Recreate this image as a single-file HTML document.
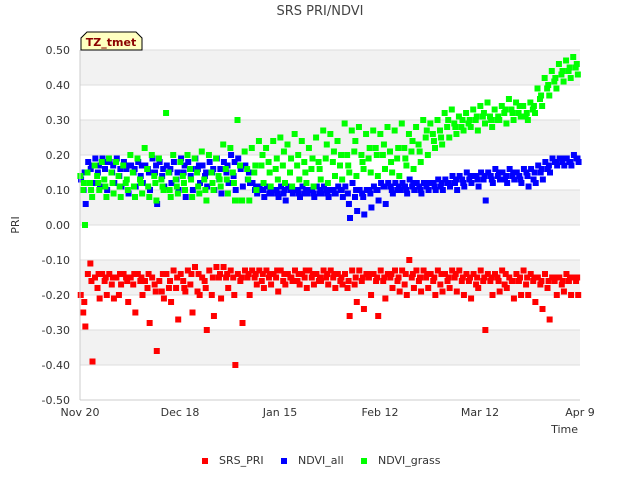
<!DOCTYPE html>
<html><head><meta charset="utf-8"><style>
body{margin:0;background:#fff;font-family:"Liberation Sans","DejaVu Sans",sans-serif}
text{font-family:"DejaVu Sans","Liberation Sans",sans-serif}
</style></head><body>
<svg id="chart" width="640" height="480" xmlns="http://www.w3.org/2000/svg">
<rect width="640" height="480" fill="#fff"/>
<text x="320" y="15" text-anchor="middle" font-size="13" fill="#444">SRS PRI/NDVI</text>
<g id="bands"></g>
<g id="grid"></g>
<g id="marks"></g>
<line x1="80" y1="400" x2="580" y2="400" stroke="#ccc"/>
<line x1="80" y1="50" x2="80" y2="400" stroke="#ccc"/>
<g id="ticks"></g>
<text transform="translate(19,225) rotate(-90)" text-anchor="middle" font-size="11" fill="#333">PRI</text>
<text x="578" y="433" text-anchor="end" font-size="11" fill="#333">Time</text>
<g>
<path d="M81,50 L81,38 L87,32 L136,32 L142,38 L142,50 Z" fill="#ffffc0" stroke="#000"/>
<text x="111" y="46" text-anchor="middle" font-size="11" font-weight="bold" fill="#8b0000">TZ_tmet</text>
</g>
<g>
<rect x="202" y="458" width="6" height="6" fill="#f00"/>
<text x="219" y="464" font-size="11" fill="#333">SRS_PRI</text>
<rect x="281" y="458" width="6" height="6" fill="#00f"/>
<text x="298" y="464" font-size="11" fill="#333">NDVI_all</text>
<rect x="361" y="458" width="6" height="6" fill="#0f0"/>
<text x="378" y="464" font-size="11" fill="#333">NDVI_grass</text>
</g>
</svg>
<script>
const yTicks=[0.5,0.4,0.3,0.2,0.1,0,-0.1,-0.2,-0.3,-0.4,-0.5];
const yTickLabels=["0.50","0.40","0.30","0.20","0.10","0.00","-0.10","-0.20","-0.30","-0.40","-0.50"];
const xTickDays=[0,28,56,84,112,140];
const xTickLabels=["Nov 20","Dec 18","Jan 15","Feb 12","Mar 12","Apr 9"];
const grayBands=[[0.4,0.5],[0.2,0.3],[0,0.1],[-0.2,-0.1],[-0.4,-0.3]];
// values every 2 days starting Nov 20
const allA=[0.13,0.18,0.19,0.19,0.18,0.19,0.18,0.17,0.18,0.17,0.19,0.18,0.17,0.18,0.19,0.18,0.19,0.17,0.18,0.19,0.18,0.2,0.19,0.17,0.12,0.11,0.11,0.1,0.11,0.11,0.1,0.11,0.1,0.11,0.11,0.1,0.11,0.11,0.12,0.1,0.1,0.11,0.12,0.12,0.12,0.12,0.13,0.12,0.12,0.12,0.13,0.13,0.14,0.14,0.15,0.14,0.15,0.15,0.16,0.15,0.16,0.15,0.16,0.16,0.17,0.18,0.19,0.19,0.19,0.2];
const allB=[0.1,0.16,0.15,0.16,0.15,0.14,0.16,0.15,0.14,0.16,0.15,0.14,0.15,0.13,0.15,0.14,0.16,0.14,0.15,0.13,0.15,0.14,0.16,0.13,0.1,0.1,0.09,0.1,0.09,0.1,0.1,0.09,0.1,0.09,0.1,0.1,0.1,0.09,0.08,0.09,0.1,0.1,0.11,0.11,0.1,0.11,0.11,0.11,0.11,0.12,0.11,0.12,0.12,0.13,0.13,0.14,0.13,0.14,0.14,0.13,0.14,0.14,0.15,0.13,0.15,0.16,0.18,0.18,0.18,0.19];
const allC=[0.06,0.12,0.11,0.1,0.12,0.11,0.09,0.11,0.12,0.1,0.06,0.11,0.12,0.1,0.08,0.1,0.12,0.11,0.1,0.09,0.12,0.1,0.11,0.12,0.09,0.08,0.09,0.08,0.07,0.09,0.08,0.09,0.08,0.09,0.08,0.09,0.08,0.02,0.04,0.03,0.05,0.07,0.06,0.09,0.1,0.09,0.1,0.09,0.1,0.1,0.1,0.11,0.1,0.11,0.12,0.11,0.07,0.12,0.13,0.12,0.13,0.12,0.11,0.12,0.13,0.15,0.17,0.17,0.17,0.18];
const allD=[0.15,0.17,0.17,0.18,0.17,0.16,0.17,0.16,0.17,0.15,0.17,0.16,0.16,0.15,0.17,0.16,0.17,0.15,0.16,0.16,0.17,0.18,0.17,0.15,0.11,0.1,0.1,0.09,0.1,0.1,0.09,0.1,0.09,0.1,0.09,0.09,0.1,0.06,0.1,0.08,0.09,0.1,0.11,0.1,0.11,0.1,0.12,0.1,0.12,0.11,0.12,0.12,0.13,0.12,0.14,0.13,0.14,0.13,0.15,0.14,0.15,0.13,0.14,0.15,0.16,0.17,0.18,0.19,0.18,0.19];
const grassA=[0.14,0.15,0.17,0.18,0.19,0.18,0.17,0.2,0.19,0.22,0.2,0.19,0.32,0.2,0.18,0.2,0.19,0.21,0.2,0.19,0.23,0.22,0.3,0.21,0.22,0.24,0.22,0.24,0.25,0.23,0.26,0.24,0.22,0.25,0.27,0.26,0.24,0.29,0.27,0.28,0.26,0.27,0.26,0.28,0.27,0.29,0.26,0.28,0.3,0.29,0.3,0.32,0.33,0.31,0.32,0.33,0.34,0.35,0.33,0.34,0.36,0.35,0.34,0.35,0.39,0.42,0.44,0.46,0.47,0.48];
const grassB=[0.1,0.12,0.14,0.13,0.15,0.14,0.12,0.15,0.13,0.16,0.14,0.13,0.15,0.13,0.14,0.16,0.15,0.13,0.15,0.14,0.16,0.15,0.17,0.16,0.15,0.17,0.18,0.16,0.17,0.15,0.17,0.18,0.16,0.18,0.19,0.18,0.17,0.2,0.21,0.2,0.19,0.22,0.2,0.21,0.19,0.22,0.21,0.23,0.25,0.26,0.27,0.28,0.29,0.28,0.29,0.3,0.31,0.31,0.3,0.32,0.33,0.32,0.31,0.33,0.36,0.39,0.41,0.43,0.44,0.45];
const grassC=[0.0,0.08,0.1,0.08,0.09,0.08,0.1,0.08,0.09,0.08,0.07,0.1,0.08,0.09,0.1,0.08,0.09,0.07,0.1,0.11,0.09,0.07,0.07,0.07,0.1,0.12,0.11,0.13,0.12,0.11,0.13,0.12,0.11,0.13,0.12,0.14,0.13,0.15,0.14,0.16,0.15,0.14,0.16,0.15,0.14,0.17,0.16,0.18,0.2,0.22,0.23,0.25,0.26,0.27,0.28,0.27,0.29,0.28,0.3,0.29,0.3,0.31,0.3,0.32,0.34,0.37,0.39,0.41,0.42,0.43];
const grassD=[0.12,0.1,0.12,0.11,0.12,0.11,0.13,0.11,0.12,0.11,0.12,0.11,0.1,0.11,0.12,0.13,0.11,0.1,0.12,0.13,0.13,0.12,0.07,0.13,0.17,0.2,0.15,0.19,0.21,0.19,0.2,0.15,0.19,0.16,0.23,0.21,0.2,0.17,0.24,0.18,0.22,0.2,0.23,0.18,0.22,0.19,0.24,0.21,0.27,0.24,0.25,0.3,0.28,0.3,0.3,0.31,0.32,0.3,0.31,0.33,0.32,0.34,0.32,0.34,0.37,0.4,0.42,0.44,0.45,0.46];
const priA=[-0.2,-0.14,-0.15,-0.14,-0.14,-0.15,-0.14,-0.15,-0.14,-0.16,-0.15,-0.16,-0.14,-0.13,-0.14,-0.13,-0.12,-0.15,-0.13,-0.12,-0.12,-0.13,-0.14,-0.13,-0.13,-0.13,-0.13,-0.14,-0.13,-0.14,-0.13,-0.14,-0.13,-0.14,-0.13,-0.13,-0.14,-0.14,-0.13,-0.13,-0.14,-0.14,-0.13,-0.14,-0.13,-0.13,-0.1,-0.13,-0.13,-0.14,-0.13,-0.14,-0.13,-0.13,-0.14,-0.14,-0.13,-0.14,-0.14,-0.13,-0.15,-0.14,-0.13,-0.14,-0.15,-0.14,-0.15,-0.15,-0.14,-0.15];
const priB=[-0.25,-0.11,-0.18,-0.16,-0.17,-0.2,-0.15,-0.17,-0.16,-0.18,-0.17,-0.19,-0.18,-0.18,-0.16,-0.17,-0.19,-0.16,-0.2,-0.15,-0.15,-0.15,-0.16,-0.15,-0.15,-0.16,-0.15,-0.15,-0.16,-0.15,-0.16,-0.15,-0.15,-0.16,-0.15,-0.15,-0.16,-0.18,-0.17,-0.16,-0.15,-0.16,-0.16,-0.15,-0.16,-0.17,-0.15,-0.16,-0.15,-0.16,-0.17,-0.16,-0.15,-0.16,-0.16,-0.17,-0.16,-0.16,-0.15,-0.17,-0.16,-0.16,-0.17,-0.16,-0.17,-0.18,-0.16,-0.17,-0.16,-0.16];
const priC=[-0.29,-0.39,-0.21,-0.2,-0.21,-0.17,-0.22,-0.25,-0.2,-0.28,-0.36,-0.21,-0.22,-0.27,-0.19,-0.25,-0.2,-0.3,-0.26,-0.21,-0.18,-0.4,-0.28,-0.2,-0.17,-0.18,-0.17,-0.19,-0.17,-0.16,-0.17,-0.18,-0.17,-0.16,-0.17,-0.18,-0.17,-0.26,-0.22,-0.24,-0.2,-0.26,-0.21,-0.18,-0.19,-0.2,-0.18,-0.19,-0.18,-0.2,-0.19,-0.18,-0.19,-0.2,-0.21,-0.18,-0.3,-0.2,-0.19,-0.18,-0.21,-0.2,-0.2,-0.22,-0.24,-0.27,-0.2,-0.19,-0.2,-0.2];
const priD=[-0.22,-0.16,-0.14,-0.15,-0.15,-0.14,-0.16,-0.14,-0.15,-0.14,-0.19,-0.14,-0.16,-0.15,-0.18,-0.14,-0.14,-0.18,-0.15,-0.14,-0.14,-0.2,-0.15,-0.14,-0.14,-0.14,-0.14,-0.13,-0.14,-0.15,-0.14,-0.13,-0.14,-0.15,-0.14,-0.14,-0.15,-0.16,-0.15,-0.15,-0.14,-0.15,-0.15,-0.14,-0.15,-0.14,-0.14,-0.15,-0.14,-0.15,-0.14,-0.15,-0.14,-0.15,-0.15,-0.15,-0.15,-0.15,-0.16,-0.14,-0.16,-0.15,-0.15,-0.15,-0.16,-0.16,-0.15,-0.16,-0.15,-0.15];
const NS="http://www.w3.org/2000/svg";
const X0=80,X1=580,Y0=400,Y1=50,DAYS=140;
const xs=d=>X0+(X1-X0)*d/DAYS;
const ys=v=>Y0-(Y0-Y1)*(v+0.5)/1.0;
function mk(tag,attrs,parent){const e=document.createElementNS(NS,tag);for(const k in attrs)e.setAttribute(k,attrs[k]);parent.appendChild(e);return e;}
const bands=document.getElementById('bands');
grayBands.forEach(b=>{const r=mk('rect',{x:X0,y:ys(b[1]),width:X1-X0,height:ys(b[0])-ys(b[1]),fill:'#f2f2f2'},bands);

});
const grid=document.getElementById('grid'),ticks=document.getElementById('ticks');
yTicks.forEach((v,i)=>{const l=mk('line',{x1:X0,x2:X1,y1:ys(v),y2:ys(v),stroke:'#ddd'},grid);


const t=mk('text',{x:X0-10,y:ys(v)+4,'text-anchor':'end','font-size':'11',fill:'#333'},ticks);t.textContent=yTickLabels[i];

});
xTickDays.forEach((d,i)=>{const t=mk('text',{x:xs(d),y:416,'text-anchor':'middle','font-size':'11',fill:'#333'},ticks);t.textContent=xTickLabels[i];

});
const marks=document.getElementById('marks');
function series(arr,off,color,name){arr.forEach((v,i)=>{const r=mk('rect',{x:xs(i*2+off)-3,y:ys(v)-3,width:6,height:6,fill:color},marks);

});}
series(priA,0.2,'#f00','srs-pri-point');series(priB,0.9,'#f00','srs-pri-point');series(priC,1.5,'#f00','srs-pri-point');series(priD,1.2,'#f00','srs-pri-point');
series(allA,0.3,'#00f','ndvi-all-point');series(allB,1.0,'#00f','ndvi-all-point');series(allC,1.6,'#00f','ndvi-all-point');series(allD,1.3,'#00f','ndvi-all-point');
series(grassA,0.1,'#0f0','ndvi-grass-point');series(grassB,0.8,'#0f0','ndvi-grass-point');series(grassC,1.4,'#0f0','ndvi-grass-point');series(grassD,1.1,'#0f0','ndvi-grass-point');
</script>
</body></html>
